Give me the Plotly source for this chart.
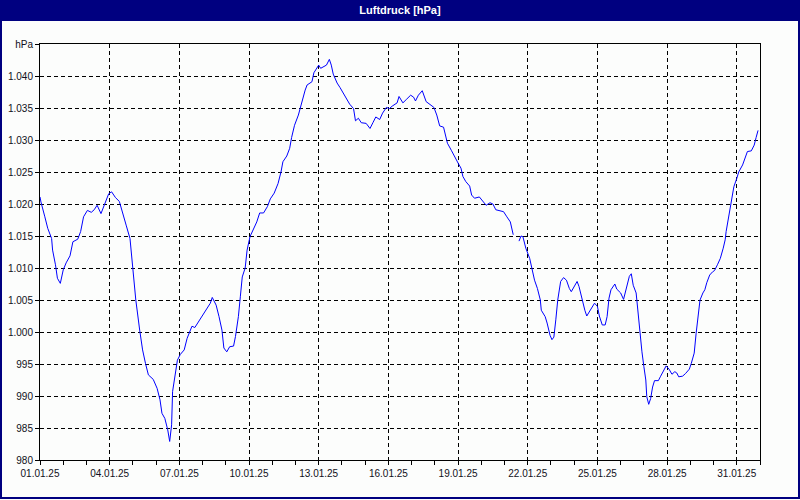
import pandas as pd
import plotly.graph_objects as go

# ---- data ----
start_time = "2025-01-01 00:00"
hours = [0, 1, 5, 8, 12, 13, 16, 18, 21, 24, 27, 31, 34, 39, 42, 45, 49, 53, 56, 59,
         63, 67, 71, 74, 78, 82, 86, 89, 93, 96, 99, 103, 106, 109, 112, 117, 121, 124, 126, 129,
         132, 134, 136, 137, 140, 142, 145, 149, 152, 157, 160, 164, 168, 172, 176, 178, 182, 185, 188, 190,
         193, 196, 200, 202, 205, 207, 209, 212, 214, 217, 220, 224, 227, 231, 235, 238, 242, 246, 249, 251,
         255, 258, 260, 263, 267, 270, 274, 276, 281, 283, 288, 290, 293, 296, 299, 301, 303, 307, 310, 313,
         317, 320, 324, 326, 329, 332, 337, 341, 344, 347, 351, 354, 358, 361, 364, 369, 371, 375, 379, 383,
         386, 388, 391, 395, 399, 403, 407, 410, 413, 417, 421, 425, 429, 432, 435, 437, 440, 444, 446, 449,
         454, 457, 461, 465, 468, 471, 475, 479, 482, 486, 489, 492, 495, 497, 499, 502, 506, 508, 511, 514,
         517, 518, 522, 524, 527, 529, 531, 533, 535, 538, 541, 544, 547, 549, 552, 555, 557, 560, 563, 565,
         568, 571, 573, 576, 578, 581, 584, 586, 588, 590, 594, 596, 600, 603, 606, 609, 611, 613, 616, 618,
         620, 622, 624, 626, 627, 629, 631, 633, 635, 639, 641, 645, 647, 650, 653, 656, 658, 660, 664, 667,
         671, 673, 676, 678, 680, 682, 685, 687, 689, 692, 695, 697, 700, 703, 706, 708, 709, 711, 713, 715,
         717, 720, 722, 726, 728, 731, 735, 738, 740, 742]
pressure = [1021.1, 1020.3, 1018.0, 1016.2, 1014.6, 1012.8, 1010.5, 1008.4, 1007.6, 1009.7,
            1010.8, 1011.9, 1014.1, 1014.5, 1015.7, 1018.0, 1019.0, 1018.7, 1019.1, 1019.8,
            1018.5, 1020.1, 1021.6, 1021.9, 1021.0, 1020.4, 1018.5, 1016.7, 1014.6, 1010.0,
            1005.0, 1000.3, 997.2, 995.1, 993.3, 992.6, 991.2, 989.4, 987.3, 986.5,
            984.7, 982.9, 985.5, 990.7, 994.1, 995.6, 996.5, 997.2, 999.0, 1000.9,
            1000.7, 1001.6, 1002.5, 1003.4, 1004.5, 1005.4, 1004.2, 1002.4, 1000.3, 997.5,
            996.9, 997.7, 997.8, 999.3, 1002.4, 1005.5, 1008.6, 1010.0, 1012.8, 1014.9,
            1015.9, 1017.2, 1018.6, 1018.6, 1019.6, 1020.8, 1021.7, 1023.2, 1025.0, 1026.6,
            1027.5, 1028.7, 1030.4, 1032.3, 1033.9, 1035.7, 1037.8, 1038.6, 1039.1, 1040.5,
            1041.7, 1041.2, 1041.5, 1041.7, 1042.6, 1041.7, 1040.3, 1038.9, 1038.2, 1037.4,
            1036.3, 1035.6, 1034.9, 1033.0, 1033.4, 1032.7, 1032.6, 1031.8, 1032.7, 1033.6,
            1033.2, 1034.2, 1035.1, 1034.9, 1035.3, 1035.8, 1036.8, 1035.8, 1036.4, 1037.0,
            1036.7, 1036.1, 1037.0, 1037.7, 1036.0, 1035.6, 1035.1, 1033.9, 1032.2, 1032.0,
            1029.5, 1028.4, 1027.1, 1026.4, 1025.6, 1024.3, 1023.5, 1022.8, 1021.4, 1020.9,
            1021.1, 1020.5, 1019.8, 1020.2, 1020.0, 1019.1, 1019.0, 1018.8, 1018.1, 1017.2,
            1015.2, None, 1014.2, 1015.0, 1014.9, 1013.1, 1011.5, 1010.0, 1008.1, 1006.8,
            1005.0, 1003.4, 1002.4, 1001.4, 999.5, 998.8, 999.2, 1001.9, 1005.0, 1007.9,
            1008.5, 1008.1, 1006.8, 1006.3, 1007.0, 1007.9, 1007.1, 1005.0, 1003.4, 1002.5,
            1003.2, 1004.1, 1004.5, 1004.0, 1002.5, 1001.1, 1001.1, 1002.4, 1005.3, 1006.6,
            1007.5, 1006.7, 1006.1, 1005.1, 1007.1, 1008.7, 1009.1, 1007.3, 1006.1, 1002.9,
            1000.0, 996.9, 994.6, 992.5, 989.9, 988.7, 989.6, 991.4, 992.4, 992.4,
            993.0, 994.1, 994.7, 994.2, 993.4, 993.8, 993.6, 993.0, 993.1, 993.5,
            994.2, 995.1, 996.7, 999.8, 1002.9, 1005.0, 1006.1, 1006.6, 1007.7, 1008.9,
            1009.4, 1009.6, 1010.5, 1011.5, 1013.1, 1014.4, 1015.7, 1017.5, 1019.3, 1021.1,
            1022.7, 1024.0, 1025.0, 1026.1, 1027.1, 1028.2, 1028.3, 1029.2, 1030.4, 1031.5]

x_ticks = ["2025-01-01", "2025-01-04", "2025-01-07", "2025-01-10", "2025-01-13", "2025-01-16",
           "2025-01-19", "2025-01-22", "2025-01-25", "2025-01-28", "2025-01-31"]
y_ticks = [980, 985, 990, 995, 1000, 1005, 1010, 1015, 1020, 1025, 1030, 1035, 1040, 1045]
y_tick_labels = ["980", "985", "990", "995", "1.000", "1.005", "1.010", "1.015", "1.020",
                 "1.025", "1.030", "1.035", "1.040", "hPa"]
title_text = "Luftdruck [hPa]"

times = pd.Timestamp(start_time) + pd.to_timedelta(hours, unit="h")

NAVY = "#000080"
BG = "#FCFDFC"
FONT = "Liberation Sans, Arial, sans-serif"

fig = go.Figure()
fig.add_trace(go.Scatter(x=times, y=pressure, mode="lines",
                         line=dict(color="#0000FF", width=1), connectgaps=False,
                         hoverinfo="skip"))

# margins -> plot area 40..760 x 44..460 px
L, R, T, B, W, H = 40, 40, 44, 40, 800, 500
pw, ph = W - L - R, H - T - B

def fx(px):
    return (px - L) / pw

def fy(py):
    return (H - B - py) / ph

fig.update_layout(
    width=W, height=H,
    margin=dict(l=L, r=R, t=T, b=B, pad=0, autoexpand=False),
    paper_bgcolor=BG, plot_bgcolor=BG,
    showlegend=False,
    font=dict(family=FONT, size=10, color="#101020"),
    title=dict(text="<b>" + title_text + "</b>", x=0.5, xanchor="center",
               y=1 - 10.5 / H, yanchor="middle", yref="container",
               font=dict(family=FONT, size=11, color="white")),
    shapes=[
        dict(type="rect", xref="paper", yref="paper", x0=fx(0), x1=fx(800), y0=fy(21), y1=fy(0),
             fillcolor=NAVY, line=dict(width=0), layer="below"),
        dict(type="rect", xref="paper", yref="paper", x0=fx(1), x1=fx(799), y0=fy(498), y1=fy(1),
             fillcolor="rgba(0,0,0,0)", line=dict(color=NAVY, width=2)),
    ],
)

fig.update_xaxes(
    type="date", automargin=False,
    range=["2025-01-01 00:00", "2025-02-01 00:00"],
    tickmode="array", tickvals=x_ticks, tickformat="%d.%m.%y",
    ticks="outside", ticklen=4, tickcolor="black",
    showline=True, linecolor="black", linewidth=1, mirror=True,
    showgrid=True, gridcolor="black", gridwidth=1, griddash="4px,3px",
    minor=dict(ticks="outside", ticklen=4, tickcolor="black", dtick=86400000,
               tick0="2025-01-01", showgrid=False),
    zeroline=False,
)
fig.update_yaxes(
    range=[980, 1045], automargin=False,
    tickmode="array", tickvals=y_ticks, ticktext=y_tick_labels,
    ticks="outside", ticklen=4, tickcolor="black",
    showline=True, linecolor="black", linewidth=1, mirror=True,
    showgrid=True, gridcolor="black", gridwidth=1, griddash="4px,3px",
    zeroline=False,
)

fig.write_html("out.html", config={"displayModeBar": False},
               post_script="document.body.style.margin='0';")
